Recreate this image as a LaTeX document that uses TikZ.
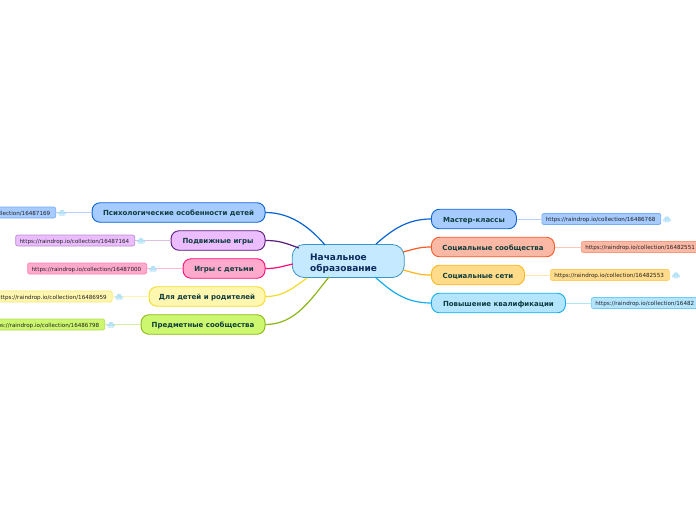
\documentclass[tikz,border=0pt]{standalone}
\usepackage{fontspec}
\setmainfont{DejaVu Sans}
\definecolor{bluef}{HTML}{A6CBFF}\definecolor{blued}{HTML}{0A63D6}\definecolor{bluel}{HTML}{78ABF5}
\definecolor{purf}{HTML}{EBBDFF}\definecolor{purd}{HTML}{5A1A7A}\definecolor{purl}{HTML}{B98FCB}
\definecolor{pinf}{HTML}{FFAACC}\definecolor{pind}{HTML}{FF0A7A}\definecolor{pinl}{HTML}{FF7FB0}
\definecolor{yelf}{HTML}{FFF6B0}\definecolor{yeld}{HTML}{F5DC28}\definecolor{yell}{HTML}{F8E96E}
\definecolor{grnf}{HTML}{CCF76E}\definecolor{grnd}{HTML}{8CB814}\definecolor{grnl}{HTML}{B4DC5A}
\definecolor{redf}{HTML}{FBB9A5}\definecolor{redd}{HTML}{FA5A28}\definecolor{redl}{HTML}{F99A80}
\definecolor{orgf}{HTML}{FFDB8A}\definecolor{orgd}{HTML}{FFB71A}\definecolor{orgl}{HTML}{FFCF66}
\definecolor{cyaf}{HTML}{B3E5FF}\definecolor{cyad}{HTML}{12AEF0}\definecolor{cyal}{HTML}{70CCF5}
\definecolor{cenf}{HTML}{C5EAFF}\definecolor{cend}{HTML}{3A95CF}\definecolor{cent}{HTML}{0D2A5E}
\definecolor{topt}{HTML}{0F3D3D}\definecolor{lnkt}{HTML}{222222}\definecolor{cloudc}{HTML}{B5E2F7}
\tikzset{
 x=1pt,y=-1pt,
 center/.style={draw=cend,fill=cenf,line width=.8pt,rounded corners=12pt,minimum width=112pt,minimum height=33pt,inner sep=0pt,text=cent,font=\bfseries\fontsize{9}{11.5}\selectfont,align=left,text width=76pt,text height=0pt,text depth=2pt},
 topic/.style 2 args={draw=#2,fill=#1,line width=.9pt,rounded corners=8pt,minimum height=19.5pt,inner sep=0pt,text=topt,font=\bfseries\fontsize{7}{8}\selectfont,text height=6pt,text depth=0pt},
 lnk/.style 2 args={draw=#2,fill=#1,line width=.7pt,rounded corners=2pt,minimum height=11pt,inner ysep=0pt,inner xsep=4pt,text width=111pt,align=left,text=lnkt,font=\fontsize{5.6}{6.5}\selectfont,text height=5pt,text depth=0pt},
 branch/.style={line width=1.2pt},
 twig/.style={line width=1pt},
 cloudpic/.pic={\fill[cloudc] (-2.4,.6) circle (1.9) (2.4,.6) circle (1.9) (0,-.6) circle (2.6) (-3.2,1) rectangle (3.2,2.5);}
}
\begin{document}
\begin{tikzpicture}
\clip (0,0) rectangle (696,520);
\useasboundingbox (0,0) rectangle (696,520);
\fill[white] (0,0) rectangle (696,520);
% nodes
\node[center] (c) at (348.2,261) {Начальное\\образование};
\node[topic={bluef}{blued},minimum width=173pt,anchor=east] (psy) at (265.5,212.5) {Психологические особенности детей};
\node[topic={purf}{purd},minimum width=94pt,anchor=east] (pod) at (265.5,240.5) {Подвижные игры};
\node[topic={pinf}{pind},minimum width=82pt,anchor=east] (igr) at (265.5,268.5) {Игры с детьми};
\node[topic={yelf}{yeld},minimum width=116pt,anchor=east] (dly) at (265.5,296.5) {Для детей и родителей};
\node[topic={grnf}{grnd},minimum width=124pt,anchor=east] (pre) at (265.5,324.5) {Предметные сообщества};
\node[topic={bluef}{blued},minimum width=85pt,anchor=west] (mas) at (431,219) {Мастер-классы};
\node[topic={redf}{redd},minimum width=123pt,anchor=west] (sos) at (431,247) {Социальные сообщества};
\node[topic={orgf}{orgd},minimum width=93pt,anchor=west] (sse) at (431,275) {Социальные сети};
\node[topic={cyaf}{cyad},minimum width=134pt,anchor=west] (pov) at (431,303) {Повышение квалификации};
\node[lnk={bluef}{bluel},anchor=east] (lpsy) at (56,212.5) {https://raindrop.io/collection/16487169};
\node[lnk={purf}{purl},anchor=east] (lpod) at (135,240.5) {https://raindrop.io/collection/16487164};
\node[lnk={pinf}{pinl},anchor=east] (ligr) at (147,268.5) {https://raindrop.io/collection/16487000};
\node[lnk={yelf}{yell},anchor=east] (ldly) at (112.5,296.5) {https://raindrop.io/collection/16486959};
\node[lnk={grnf}{grnl},anchor=east] (lpre) at (105,324.5) {https://raindrop.io/collection/16486798};
\node[lnk={bluef}{bluel},anchor=west] (lmas) at (541.5,219) {https://raindrop.io/collection/16486768};
\node[lnk={redf}{redl},anchor=west] (lsos) at (581,247) {https://raindrop.io/collection/16482551};
\node[lnk={orgf}{orgl},anchor=west] (lsse) at (550,275) {https://raindrop.io/collection/16482553};
\node[lnk={cyaf}{cyal},anchor=west] (lpov) at (591,303) {https://raindrop.io/collection/16482};
% connector ends on the central node
\coordinate (e1) at (325,245);\coordinate (e2) at (299,248);\coordinate (e3) at (293,264);
\coordinate (e4) at (307,278);\coordinate (e5) at (329,277);\coordinate (e6) at (376,244);
\coordinate (e7) at (403,252);\coordinate (e8) at (403,270);\coordinate (e9) at (375,277);
% branches
\draw[branch,blued] (psy.east) .. controls +(28,0) and +(-12,-14) .. (e1);
\draw[branch,purd] (pod.east) .. controls +(14,0) and +(-14,-5) .. (e2);
\draw[branch,pind] (igr.east) .. controls +(12,0) and +(-14,3) .. (e3);
\draw[branch,yeld] (dly.east) .. controls +(18,0) and +(-14,10) .. (e4);
\draw[branch,grnd] (pre.east) .. controls +(30,0) and +(-18,22) .. (e5);
\draw[branch,blued] (mas.west) .. controls +(-24,0) and +(16,-14) .. (e6);
\draw[branch,redd] (sos.west) .. controls +(-12,0) and +(12,-3) .. (e7);
\draw[branch,orgd] (sse.west) .. controls +(-12,0) and +(12,3) .. (e8);
\draw[branch,cyad] (pov.west) .. controls +(-26,0) and +(16,14) .. (e9);
% twigs
\draw[twig,bluel!55] (psy.west) -- (lpsy.east);
\draw[twig,purl!55] (pod.west) -- (lpod.east);
\draw[twig,pinl!55] (igr.west) -- (ligr.east);
\draw[twig,yell!55] (dly.west) -- (ldly.east);
\draw[twig,grnl!55] (pre.west) -- (lpre.east);
\draw[twig,bluel!55] (mas.east) -- (lmas.west);
\draw[twig,redl!55] (sos.east) -- (lsos.west);
\draw[twig,orgl!55] (sse.east) -- (lsse.west);
\draw[twig,cyal!55] (pov.east) -- (lpov.west);
% link clouds
\pic at (62,213) {cloudpic};
\pic at (141,241) {cloudpic};
\pic at (153,269) {cloudpic};
\pic at (119,297) {cloudpic};
\pic at (111,325) {cloudpic};
\pic at (667,219.5) {cloudpic};
\pic at (676,275.5) {cloudpic};
\end{tikzpicture}
\end{document}
